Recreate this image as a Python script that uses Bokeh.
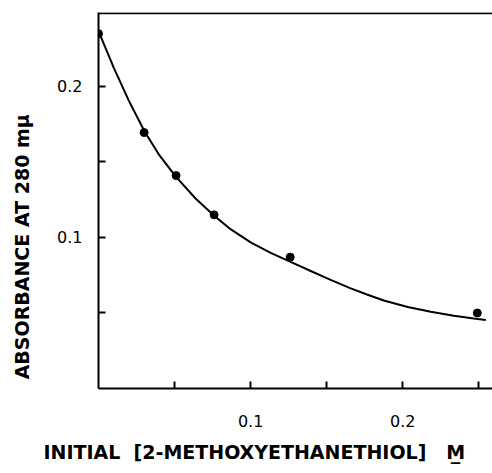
from bokeh.plotting import figure
from bokeh.models import Range1d, FixedTicker, Span, Title
from bokeh.embed import file_html
from bokeh.resources import INLINE

# measured points
conc = [0.0, 0.030, 0.051, 0.076, 0.126, 0.249]
absorb = [0.235, 0.1695, 0.141, 0.115, 0.087, 0.050]

# drawn smooth curve
curve_x = [0.0007, 0.0100, 0.0200, 0.0303, 0.0400, 0.0507, 0.0638, 0.0757, 0.0868, 0.1000,
           0.1132, 0.1263, 0.1395, 0.1526, 0.1658, 0.1760, 0.1875, 0.2033, 0.2184, 0.2336,
           0.2467, 0.2546]
curve_y = [0.2350, 0.2125, 0.1905, 0.1702, 0.1545, 0.1405, 0.1258, 0.1148, 0.1055, 0.0968,
           0.0898, 0.0838, 0.0778, 0.0719, 0.0663, 0.0624, 0.0583, 0.0540, 0.0508, 0.0482,
           0.0464, 0.0454]

x_ticks = [0.05, 0.1, 0.15, 0.2, 0.25]
x_labels = {0.05: "", 0.1: "0.1", 0.15: "", 0.2: "0.2", 0.25: ""}
y_ticks = [0.05, 0.1, 0.15, 0.2]
y_labels = {0.05: "", 0.1: "0.1", 0.15: "", 0.2: "0.2"}

x_title = "INITIAL\u00a0\u00a0[2-METHOXYETHANETHIOL]\u00a0\u00a0\u00a0M\u0332"
y_title = "ABSORBANCE AT 280 m\u03bc"

FONT = "DejaVu Sans"

p = figure(width=492, height=473, output_backend="svg", toolbar_location=None,
           x_range=Range1d(0, 0.259), y_range=Range1d(0, 0.249),
           min_border_left=98, min_border_right=0, min_border_top=12, min_border_bottom=85)
p.outline_line_color = None
p.grid.grid_line_color = None
p.background_fill_color = "white"
p.border_fill_color = "white"

for ax, ticks, labels in ((p.xaxis[0], x_ticks, x_labels), (p.yaxis[0], y_ticks, y_labels)):
    ax.ticker = FixedTicker(ticks=ticks)
    ax.major_label_overrides = labels
    ax.minor_tick_line_color = None
    ax.major_tick_in = 7
    ax.major_tick_out = 0
    ax.axis_line_width = 2
    ax.major_tick_line_width = 2
    ax.axis_line_color = "black"
    ax.major_tick_line_color = "black"
    ax.major_label_text_font = FONT
    ax.major_label_text_font_size = "16px"
    ax.major_label_text_color = "black"

p.xaxis[0].major_label_standoff = 26
p.yaxis[0].major_label_standoff = 16

p.yaxis[0].axis_label = y_title + "\u00a0" * 14
p.yaxis[0].axis_label_text_font = FONT
p.yaxis[0].axis_label_text_font_size = "19px"
p.yaxis[0].axis_label_text_font_style = "bold"
p.yaxis[0].axis_label_text_color = "black"
p.yaxis[0].axis_label_standoff = 21

p.add_layout(Title(text=x_title, align="left", offset=-55, standoff=18,
                   text_font=FONT, text_font_size="19px", text_font_style="bold",
                   text_color="black"), "below")

p.add_layout(Span(location=0.2485, dimension="width", line_color="black", line_width=2))

p.line(curve_x, curve_y, line_color="black", line_width=2)
p.scatter(conc, absorb, size=8, color="black")

open("out.html", "w").write(file_html(p, INLINE))
